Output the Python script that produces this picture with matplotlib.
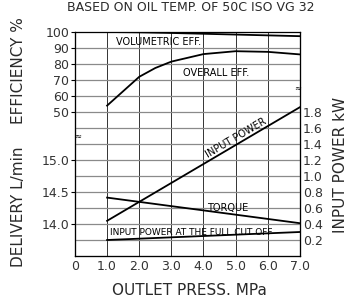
import numpy as np
import matplotlib
matplotlib.use("Agg")
import matplotlib.pyplot as plt

plt.rcParams["font.family"] = ["DejaVu Sans"]

# outlet pressure, MPa
press = [1.0, 1.5, 2.0, 2.5, 3.0, 4.0, 5.0, 6.0, 7.0]
vol_eff = [100.0, 99.9, 99.8, 99.6, 99.4, 98.9, 98.4, 97.9, 97.4]
overall_eff = [54.0, 63.0, 72.0, 77.5, 81.5, 86.2, 88.0, 87.6, 86.0]

press_line = [1.0, 7.0]
input_power = [0.44, 1.86]
torque = [0.73, 0.41]
power_cutoff = [0.20, 0.30]

x_ticks = [0, 1, 2, 3, 4, 5, 6, 7]
x_labels = ["0", "1.0", "2.0", "3.0", "4.0", "5.0", "6.0", "7.0"]
eff_ticks = [50, 60, 70, 80, 90, 100]
del_ticks = [14.0, 14.5, 15.0]
pow_ticks = [0.2, 0.4, 0.6, 0.8, 1.0, 1.2, 1.4, 1.6, 1.8]

fig = plt.figure(figsize=(3.57, 3.06), dpi=100)
ax = fig.add_axes([0.210, 0.1634, 0.630, 0.732])  # delivery axis

fs = 9
tc = "#333333"
grid_c = "#8a8a8a"

# power axis on the right, also carries the horizontal grid
axp = ax.twinx()
axp.set_ylim(0, 2.8)
rows = np.arange(0.2, 2.8, 0.2)
axp.set_yticks(rows)
axp.set_yticklabels(["%.1f" % v if v < 1.85 else "" for v in rows], fontsize=fs, color=tc)
axp.tick_params(axis="y", length=0, pad=2)
for v in rows:
    axp.axhline(v, color=grid_c, lw=0.9, zorder=0)

# efficiency axis, labels on the left
axe = ax.twinx()
axe.set_ylim(-40, 100)
axe.yaxis.tick_left()
axe.set_yticks(eff_ticks)
axe.set_yticklabels([str(v) for v in eff_ticks], fontsize=fs, color=tc)
axe.tick_params(axis="y", length=3, pad=1)

ax.set_ylim(13.5, 17.0)
ax.set_yticks(del_ticks)
ax.set_yticklabels(["%.1f" % v for v in del_ticks], fontsize=fs, color=tc)
ax.tick_params(axis="y", length=3, pad=1)

ax.set_xlim(0, 7)
ax.set_xticks(x_ticks)
ax.set_xticklabels(x_labels, fontsize=fs, color=tc)
ax.tick_params(axis="x", length=0, pad=3)
for xv in x_ticks[1:-1]:
    ax.axvline(xv, color="#333333", lw=0.7, zorder=0)

for a in (ax, axp, axe):
    for s in a.spines.values():
        s.set_linewidth(0.8)
    a.patch.set_visible(False)
ax.spines["top"].set_color(grid_c)

lw = 1.3
axe.plot(press, vol_eff, color="black", lw=lw)
axe.plot(press, overall_eff, color="black", lw=lw)
axp.plot(press_line, input_power, color="black", lw=lw)
axp.plot(press_line, torque, color="black", lw=lw)
axp.plot(press_line, power_cutoff, color="black", lw=lw)

tf = 7
axe.text(1.28, 93.7, "VOLUMETRIC EFF.", fontsize=tf, va="center", ha="left")
axe.text(4.4, 74.5, "OVERALL EFF.", fontsize=tf, va="center", ha="center")
axp.text(5.0, 1.47, "INPUT POWER", fontsize=tf, va="center", ha="center", rotation=30.5)
axp.text(4.75, 0.595, "TORQUE", fontsize=tf, va="center", ha="center")
axp.text(1.1, 0.29, "INPUT POWER AT THE FULL CUT OFF", fontsize=tf - 0.5, va="center", ha="left")

# axis break marks
ax.text(0.08, 15.375, "≈", fontsize=6, ha="center", va="center")
ax.text(6.93, 16.125, "≈", fontsize=6, ha="center", va="center")

lc = "#2a2a2a"
fig.text(0.53, 0.052, "OUTLET PRESS. MPa", fontsize=11, ha="center", va="center", color=lc)
fig.text(0.052, 0.77, "EFFICIENCY %", fontsize=11, rotation=90, ha="center", va="center", color=lc)
fig.text(0.052, 0.325, "DELIVERY L/min", fontsize=11, rotation=90, ha="center", va="center", color=lc)
fig.text(0.955, 0.46, "INPUT POWER kW", fontsize=11, rotation=90, ha="center", va="center", color=lc)
fig.text(0.535, 0.997, "BASED ON OIL TEMP. OF 50C ISO VG 32", fontsize=9, ha="center", va="top", color=lc)

fig.savefig("out.png", dpi=100)
